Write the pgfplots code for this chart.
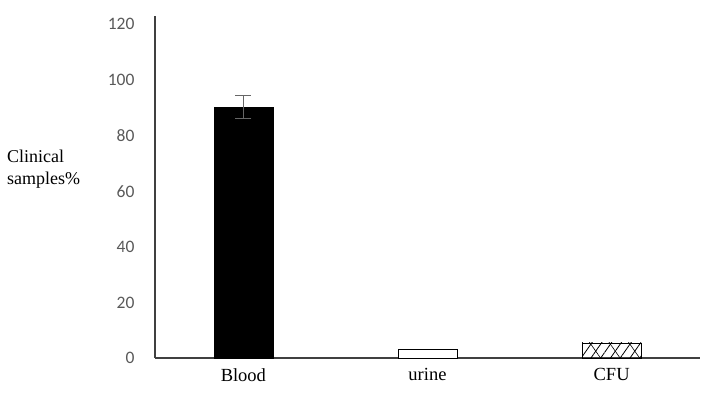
\documentclass[border=0pt]{standalone}
\usepackage{pgfplots}
\pgfplotsset{compat=1.18}
\usepackage{fontspec}
\setmainfont{Liberation Serif}
\newfontfamily\carlito{Carlito}
\usetikzlibrary{patterns.meta}
\begin{document}
\begin{tikzpicture}
\path[use as bounding box] (-155pt,-35pt) rectangle (551pt,358pt);
\begin{axis}[
  scale only axis, width=545pt, height=342pt,
  at={(0pt,0pt)}, anchor=south west,
  xmin=-0.48, xmax=2.48, ymin=0, ymax=123,
  axis x line=bottom, axis y line=left,
  axis line style={draw=black!75, line width=1.2pt, -},
  xtick={0,1,2}, xticklabels={Blood,urine,CFU},
  ytick={0,20,40,60,80,100,120},
  major tick length=0pt,
  /pgf/number format/assume math mode=true,
  yticklabel style={font=\carlito\fontsize{17.5}{20}\selectfont, text=black!65, xshift=-17pt},
  xticklabel style={font=\fontsize{18.5}{21}\selectfont, yshift=-7pt},
  ybar, bar width=59pt, bar shift=0pt,
  clip=false,
]
\addplot[fill=black, draw=black, error bars/.cd, y dir=both, y explicit,
  error bar style={draw=black!60, line width=1.3pt},
  error mark options={rotate=90, mark size=8pt, draw=black!60, line width=1.3pt}]
  coordinates {(0,90.3) +- (0,4.1)};
\addplot[fill=white, draw=black, line width=0.8pt] coordinates {(1,3.2)};
\addplot[pattern={Lines[angle=55, distance=8pt, line width=0.8pt]}, draw=black, line width=0.8pt] coordinates {(2,5.4)};
\addplot[pattern={Lines[angle=-55, distance=16pt, line width=0.6pt]}, draw=black, line width=0.8pt] coordinates {(2,5.4)};
\end{axis}
\node[anchor=north west, align=left, inner sep=0pt, font=\fontsize{18}{22}\selectfont] at (-148pt,208pt) {Clinical\\samples\%};
\end{tikzpicture}
\end{document}
